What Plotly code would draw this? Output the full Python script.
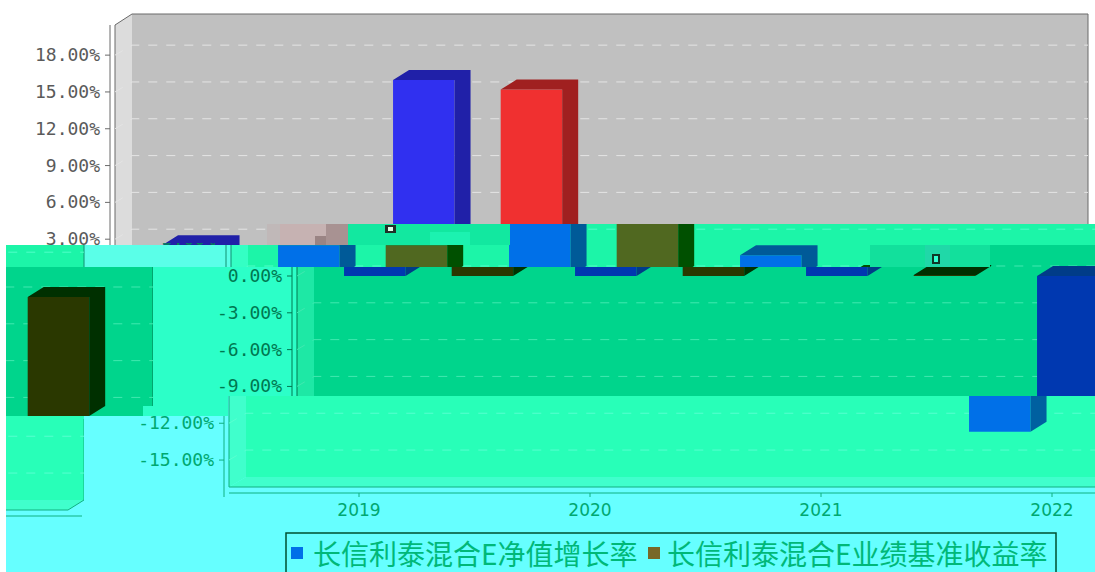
import plotly.graph_objects as go

# ---- data ----
categories = ["2019", "2020", "2021", "2022"]
series_names = ["长信利泰混合E净值增长率", "长信利泰混合E业绩基准收益率"]
series_a = [2.5, 15.97, 1.7, -12.7]
series_b = [2.5, 15.2, 0.08, -9.7]
y_ticks = [18, 15, 12, 9, 6, 3, 0, -3, -6, -9, -12, -15]

# ---- drawing constants (pixels of the picture) ----
W, H = 1095, 572
PX_PER_VAL = 12.27      # pixels per percentage point
ZERO_Y = 276            # front-plane zero line
CAT0_X, CAT_STEP = 245, 231
OFF_A, OFF_B = -0.226, 0.24   # bar offsets from the category centre, in category units
BAR_W = 61.5 / CAT_STEP
DX = 16 / CAT_STEP      # depth of the fake 3D view
DY = 10 / PX_PER_VAL


def vx(px):
    return (px - CAT0_X) / CAT_STEP


def vy(py):
    return (ZERO_Y - py) / PX_PER_VAL


NORMAL = dict(bg="#ffffff", plot="#c0c0c0", wall="#dcdcdc", floor="#d4d4d4", grid="#e4e4e4",
              a="#3030f0", a2="#2020a8", b="#f03030", b2="#a02020", text="#5a5a5a", line="#6a6a6a")
BAND = dict(bg="#5affe8", plot="#1cf5a8", wall="#34ffc4", floor="#34ffc4", grid="#50ffc8",
            a="#0070e8", a2="#005a98", b="#506820", b2="#005000", text="#008058", line="#109070")
DARK = dict(bg="#2cffc8", plot="#00d58c", wall="#1ee8a5", floor="#1ee8a5", grid="#40e8b0",
            a="#0038b0", a2="#003c88", b="#2a3800", b2="#003000", text="#007850", line="#007850")
LOWER = dict(bg="#66ffff", plot="#28ffb8", wall="#40ffcc", floor="#40ffcc", grid="#58ffd0",
             a="#0070e8", a2="#0060a0", b="#506820", b2="#005000", text="#00a870", line="#10b080")

# x0, x1, y0, y1, x shift, y shift, palette, show year labels
segments = [
    (0, 1095, 0, 224, 0, 0, NORMAL, False),
    (0, 267, 224, 245, 0, 0, NORMAL, False),
    (155, 215, 243, 245, 116, 0, BAND, False),
    (510, 1095, 224, 245, 116, 0, BAND, False),
    (85, 885, 245, 267, 116, 0, BAND, False),
    (6, 85, 245, 267, -1004, 23, BAND, False),
    (885, 1095, 245, 267, 182, 0, DARK, False),
    (153, 1095, 267, 396, 182, 0, DARK, False),
    (6, 153, 267, 416, -935, 21, DARK, False),
    (228, 1095, 396, 416, 114, 0, LOWER, False),
    (84, 1095, 416, 572, 114, 0, LOWER, True),
    (6, 84, 416, 572, -1004, 23, LOWER, False),
]

# loose blocks of scrambled colour: x0, x1, y0, y1, colour
patches = [
    (153, 228, 396, 406, "#2cffc8"), (143, 228, 406, 416, "#2cffc8"),
    (6, 84, 416, 419, "#28ffb8"),
    (267, 280, 224, 245, "#c0b8b8"), (280, 326, 224, 245, "#c6b2b2"), (326, 348, 224, 245, "#a89292"),
    (315, 326, 236, 245, "#9a8484"), (348, 510, 224, 245, "#12e8a0"), (430, 470, 232, 245, "#1cf2b0"),
    (385, 396, 225, 233, "#203028"), (388, 393, 227, 231, "#e0ffe8"),
    (870, 990, 245, 267, "#12e09c"), (925, 950, 245, 267, "#20d8a8"), (932, 940, 254, 264, "#103828"),
    (934, 938, 256, 262, "#30ffd0"),
]

fig = go.Figure()
shapes = []
layout_axes = {}


def poly(pts):
    return "M " + " L ".join(f"{x:.4f},{y:.4f}" for x, y in pts) + " Z"


LABEL_X = 100
for n, (x0, x1, y0, y1, sx, sy, pal, years) in enumerate(segments, start=1):
    xa, ya = f"x{n}", f"y{n}"
    layout_axes[f"xaxis{n}"] = dict(domain=[x0 / W, x1 / W], range=[vx(x0 - sx), vx(x1 - sx)],
                                    visible=False, fixedrange=True, anchor=ya)
    layout_axes[f"yaxis{n}"] = dict(domain=[1 - y1 / H, 1 - y0 / H], range=[vy(y1 - sy), vy(y0 - sy)],
                                    visible=False, fixedrange=True, anchor=xa)
    shapes.append(dict(type="rect", xref="paper", yref="paper", x0=x0 / W, x1=x1 / W,
                       y0=1 - y1 / H, y1=1 - y0 / H, fillcolor=pal["bg"], line_width=0, layer="below"))

    def add(path=None, fill=None, line=None, width=1, dash=None):
        shapes.append(dict(type="path", path=path, xref=xa, yref=ya, layer="below", fillcolor=fill,
                           line=dict(color=line, width=width if line else 0, dash=dash)))

    L, B, R = vx(115), vx(132), vx(1088)
    FR = vx(1072)
    T, FT, BB, FB = vy(14), vy(25), vy(477), vy(487)
    add(poly([(B, T), (R, T), (R, BB), (B, BB)]), pal["plot"])
    add(poly([(L, FT), (B, T), (B, BB), (L, FB)]), pal["wall"])
    add(poly([(L, FB), (B, BB), (R, BB), (FR, FB)]), pal["floor"])
    add(f"M {L},{FB} L {L},{FT} L {B},{T} L {R},{T} L {R},{BB} L {FR},{FB} Z", None, pal["line"], 1)
    add(f"M {vx(110)},{vy(25)} L {vx(110)},{vy(497)}", None, pal["line"], 1)
    add(f"M {vx(115)},{vy(493)} L {vx(1086)},{vy(493)}", None, pal["line"], 1)
    for v in y_ticks:
        add(f"M {L},{v} L {B},{v + DY} L {R},{v + DY}", None, pal["grid"], 1, "dash")
        add(f"M {vx(105)},{v} L {vx(110)},{v}", None, pal["line"], 1)
    for i in range(len(categories)):
        add(f"M {i},{vy(493)} L {i},{vy(497)}", None, pal["line"], 1)

    for vals, off, col, col2 in ((series_a, OFF_A, pal["a"], pal["a2"]), (series_b, OFF_B, pal["b"], pal["b2"])):
        xs = [i + off for i in range(len(vals))]
        fig.add_trace(go.Bar(x=xs, y=vals, base=0, width=BAR_W, marker=dict(color=col, line_width=0),
                             xaxis=xa, yaxis=ya, showlegend=False, hoverinfo="skip"))
        px, py = [], []
        for xc, v in zip(xs, vals):
            a, b = xc - BAR_W / 2, xc + BAR_W / 2
            t, u = max(v, 0), min(v, 0)
            px += [a, b, b + DX, a + DX, a, None, b, b + DX, b + DX, b, b, None]
            py += [t, t, t + DY, t + DY, t, None, t, t + DY, u + DY, u, t, None]
        fig.add_trace(go.Scatter(x=px, y=py, mode="lines", fill="toself", fillcolor=col2, line_width=0,
                                 xaxis=xa, yaxis=ya, showlegend=False, hoverinfo="skip"))

    # only the tick labels that can show inside this piece of the picture
    shown = [v for v in y_ticks
             if y0 - 9 < ZERO_Y - v * PX_PER_VAL + sy < y1 + 9 and x0 - 80 < LABEL_X + sx < x1 + 80
             and LABEL_X + sx > 0]
    if shown:
        fig.add_trace(go.Scatter(x=[vx(LABEL_X)] * len(shown), y=[v - 1.5 / PX_PER_VAL for v in shown], mode="text",
                                 text=[f"{v:.2f}%" for v in shown], textposition="middle left",
                                 textfont=dict(family="DejaVu Sans Mono", size=18, color=pal["text"]),
                                 xaxis=xa, yaxis=ya, showlegend=False, hoverinfo="skip"))
    if years:
        fig.add_trace(go.Scatter(x=list(range(len(categories))), y=[vy(512)] * len(categories), mode="text",
                                 text=categories, textposition="middle center",
                                 textfont=dict(family="DejaVu Sans", size=17, color=pal["text"]),
                                 xaxis=xa, yaxis=ya, showlegend=False, hoverinfo="skip"))

for (x0, x1, y0, y1, c) in patches:
    shapes.append(dict(type="rect", xref="paper", yref="paper", x0=x0 / W, x1=x1 / W,
                       y0=1 - y1 / H, y1=1 - y0 / H, fillcolor=c, line_width=0, layer="above"))

# legend: box, swatches and names
shapes.append(dict(type="rect", xref="paper", yref="paper", x0=286 / W, x1=1056 / W, y0=-0.01, y1=1 - 533 / H,
                   fillcolor="rgba(0,0,0,0)", line=dict(color="#005030", width=1.5), layer="above"))
annotations = []
for name, sw, tx, col in zip(series_names, (291, 648), (313, 667), (LOWER["a"], "#786828")):
    shapes.append(dict(type="rect", xref="paper", yref="paper", x0=sw / W, x1=(sw + 12) / W,
                       y0=1 - 559 / H, y1=1 - 547 / H, fillcolor=col, line_width=0, layer="above"))
    annotations.append(dict(text=name, xref="paper", yref="paper", x=tx / W, y=1 - 553 / H, xanchor="left",
                            yanchor="middle", showarrow=False, xshift=-2,
                            font=dict(family="Noto Sans CJK SC", size=28, color="#00b878")))

fig.update_layout(
    width=W, height=H, margin=dict(l=0, r=0, t=0, b=0, autoexpand=False), paper_bgcolor="#ffffff",
    plot_bgcolor="rgba(0,0,0,0)", barmode="overlay", shapes=shapes, annotations=annotations, showlegend=False,
    **layout_axes,
)
fig.write_html("out.html", post_script="document.body.style.margin='0';", config=dict(displayModeBar=False))
